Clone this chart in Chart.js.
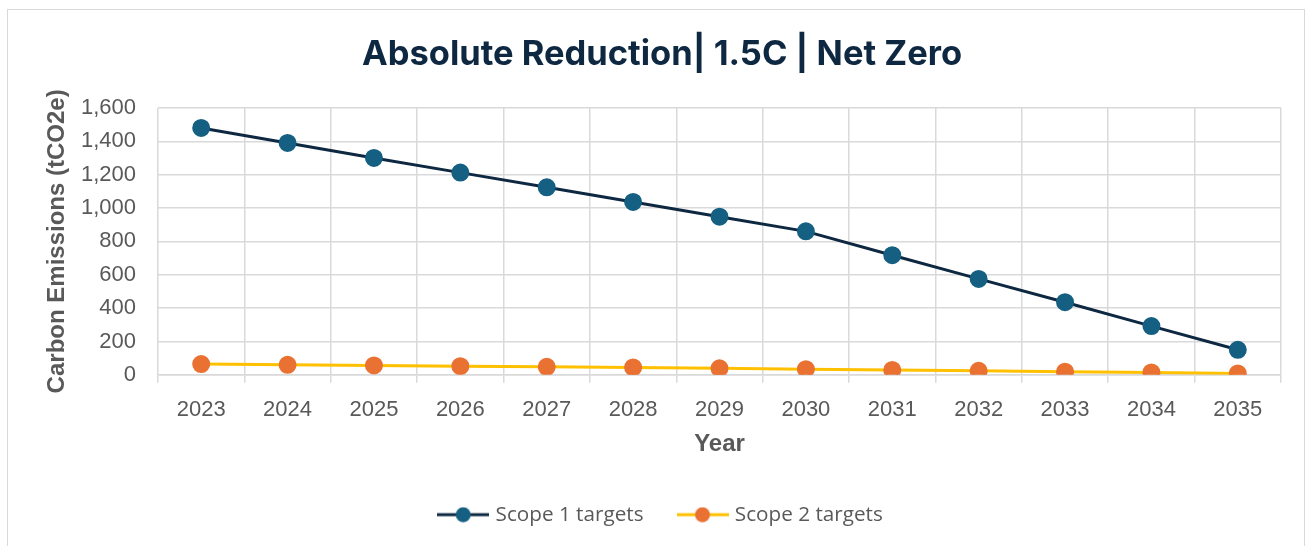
<!DOCTYPE html>
<html lang="en">
<head>
    <meta charset="UTF-8">
    <title>Absolute Reduction | 1.5C | Net Zero</title>
    <script src="https://cdn.jsdelivr.net/npm/chart.js"></script>
    <style>
        html, body {
            margin: 0;
            padding: 0;
            background: #ffffff;
            overflow: hidden;
        }
        .frame {
            position: absolute;
            left: 7px;
            top: 9px;
            width: 1298px;
            height: 560px;
            border: 1px solid #d9d9d9;
            box-sizing: border-box;
        }
        .chart-box {
            position: absolute;
            left: 0;
            top: 0;
            width: 1312px;
            height: 546px;
        }
    </style>
</head>
<body>
    <div class="frame"></div>
    <div class="chart-box">
        <canvas id="emissionsChart"></canvas>
    </div>

    <script>
        // values
        const years = ['2023', '2024', '2025', '2026', '2027', '2028', '2029',
                       '2030', '2031', '2032', '2033', '2034', '2035'];
        const scope1Targets = [1480, 1390, 1300, 1212, 1124, 1036, 948, 860, 717, 575, 435, 292, 150];
        const scope2Targets = [64, 60, 56, 52, 48, 44, 39, 34, 29, 24, 19, 14, 8];
        const yMax = 1600;
        const yStep = 200;

        const textGrey = '#595959';
        const gridGrey = '#d9d9d9';

        // legend marker: short line with a dot, like the spreadsheet legend
        function legendMarker(lineColor, dotColor) {
            const c = document.createElement('canvas');
            c.width = 52;
            c.height = 16;
            const g = c.getContext('2d');
            g.strokeStyle = lineColor;
            g.lineWidth = 3;
            g.beginPath();
            g.moveTo(0, 8);
            g.lineTo(52, 8);
            g.stroke();
            g.fillStyle = dotColor;
            g.beginPath();
            g.arc(26, 8, 7.5, 0, Math.PI * 2);
            g.fill();
            return c;
        }

        const markers = [
            legendMarker('#0e2841', '#156082'),
            legendMarker('#ffc000', '#e97132')
        ];

        const ctx = document.getElementById('emissionsChart').getContext('2d');
        new Chart(ctx, {
            type: 'line',
            data: {
                labels: years,
                datasets: [
                    {
                        label: 'Scope 1 targets',
                        data: scope1Targets,
                        borderColor: '#0e2841',
                        backgroundColor: '#156082',
                        pointBackgroundColor: '#156082',
                        pointBorderColor: '#156082',
                        borderWidth: 3,
                        pointRadius: 7.5,
                        pointHoverRadius: 7.5,
                        tension: 0
                    },
                    {
                        label: 'Scope 2 targets',
                        data: scope2Targets,
                        borderColor: '#ffc000',
                        backgroundColor: '#e97132',
                        pointBackgroundColor: '#e97132',
                        pointBorderColor: '#e97132',
                        borderWidth: 3,
                        pointRadius: 7.5,
                        pointHoverRadius: 7.5,
                        tension: 0
                    }
                ]
            },
            options: {
                responsive: true,
                maintainAspectRatio: false,
                animation: false,
                layout: {
                    padding: { left: 43, right: 31, top: 0, bottom: 11 }
                },
                plugins: {
                    title: {
                        display: true,
                        text: 'Absolute Reduction| 1.5C | Net Zero',
                        color: '#0e2841',
                        font: { family: 'Inter', size: 34.5, weight: 'bold' },
                        padding: { top: 34, bottom: 32.5 }
                    },
                    legend: {
                        position: 'bottom',
                        labels: {
                            color: textGrey,
                            font: { family: 'Open Sans', size: 20.7 },
                            usePointStyle: true,
                            pointStyleWidth: 44,
                            padding: 37,
                            generateLabels: function (chart) {
                                const items = Chart.defaults.plugins.legend.labels.generateLabels(chart);
                                items.forEach((item, i) => {
                                    item.pointStyle = markers[i];
                                });
                                return items;
                            }
                        }
                    },
                    tooltip: { enabled: false }
                },
                scales: {
                    x: {
                        offset: true,
                        afterFit: function (scale) {
                            scale.height = 92.5;
                        },
                        grid: {
                            offset: true,
                            color: gridGrey,
                            lineWidth: 1.5,
                            tickLength: 8
                        },
                        border: { color: gridGrey, width: 1.5 },
                        ticks: {
                            color: textGrey,
                            font: { family: 'Liberation Sans', size: 22 },
                            padding: 14,
                            maxRotation: 0
                        },
                        title: {
                            display: true,
                            text: 'Year',
                            color: textGrey,
                            font: { family: 'Liberation Sans', size: 24, weight: 'bold' },
                            padding: { top: 0, bottom: 9 }
                        }
                    },
                    y: {
                        min: 0,
                        max: yMax,
                        afterFit: function (scale) {
                            scale.width = 115;
                        },
                        grid: {
                            color: gridGrey,
                            lineWidth: 1.5,
                            drawTicks: false
                        },
                        border: { display: false },
                        ticks: {
                            stepSize: yStep,
                            color: textGrey,
                            font: { family: 'Liberation Sans', size: 22 },
                            padding: 22
                        },
                        title: {
                            display: true,
                            text: 'Carbon Emissions (tCO2e)',
                            color: textGrey,
                            font: { family: 'Liberation Sans', size: 24, weight: 'bold' },
                            padding: 0
                        }
                    }
                }
            }
        });
    </script>
</body>
</html>
